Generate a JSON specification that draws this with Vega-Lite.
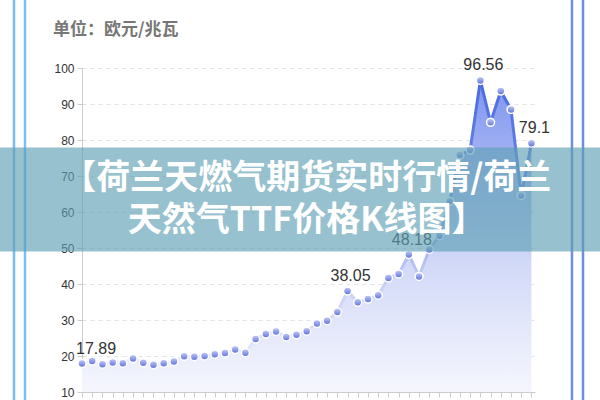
{
  "$schema": "https://vega.github.io/schema/vega-lite/v6.json",
  "width": 453,
  "height": 324,
  "autosize": {"type": "none"},
  "padding": {"left": 82, "top": 68, "right": 65, "bottom": 8},
  "background": "white",
  "config": {"view": {"stroke": null}},
  "datasets": {
    "prices": [
      {"i": 1, "v": 17.89, "lab": "17.89"},
      {"i": 2, "v": 18.6},
      {"i": 3, "v": 17.7},
      {"i": 4, "v": 18.2},
      {"i": 5, "v": 18.0},
      {"i": 6, "v": 19.3},
      {"i": 7, "v": 18.1},
      {"i": 8, "v": 17.6},
      {"i": 9, "v": 18.0},
      {"i": 10, "v": 18.5},
      {"i": 11, "v": 19.9},
      {"i": 12, "v": 19.8},
      {"i": 13, "v": 20.0},
      {"i": 14, "v": 20.5},
      {"i": 15, "v": 20.8},
      {"i": 16, "v": 21.8},
      {"i": 17, "v": 20.9},
      {"i": 18, "v": 24.7},
      {"i": 19, "v": 26.1},
      {"i": 20, "v": 26.8},
      {"i": 21, "v": 25.3},
      {"i": 22, "v": 25.9},
      {"i": 23, "v": 26.9},
      {"i": 24, "v": 29.0},
      {"i": 25, "v": 29.8},
      {"i": 26, "v": 32.2},
      {"i": 27, "v": 38.05, "lab": "38.05"},
      {"i": 28, "v": 34.9},
      {"i": 29, "v": 35.8},
      {"i": 30, "v": 36.9},
      {"i": 31, "v": 41.7},
      {"i": 32, "v": 42.8},
      {"i": 33, "v": 48.18, "lab": "48.18"},
      {"i": 34, "v": 42.1},
      {"i": 35, "v": 49.6},
      {"i": 36, "v": 53.4},
      {"i": 37, "v": 63.0},
      {"i": 38, "v": 75.8},
      {"i": 39, "v": 77.2},
      {"i": 40, "v": 96.56, "lab": "96.56"},
      {"i": 41, "v": 84.9},
      {"i": 42, "v": 93.6},
      {"i": 43, "v": 88.5},
      {"i": 44, "v": 64.6},
      {"i": 45, "v": 79.1, "lab": "79.1"}
    ],
    "frames": [
      {"i": -5.658, "v": 118.9, "v2": 7.8, "side": "left"},
      {"i": -4.58, "v": 118.9, "v2": 7.8, "side": "left"},
      {"i": 48.97, "v": 118.9, "v2": 7.8, "side": "right"},
      {"i": 50.05, "v": 118.9, "v2": 7.8, "side": "right"}
    ],
    "unit": [
      {"i": -1.84, "v": 110.56, "t": "单位：欧元/兆瓦"}
    ],
    "banner": [
      {"i": -7.03, "i2": 51.73, "v": 77.92, "v2": 49.03}
    ],
    "bannerText": [
      {"i": 23.0, "v": 69.2, "t": "【荷兰天燃气期货实时行情/荷兰"},
      {"i": 23.0, "v": 57.5, "t": "天然气TTF价格K线图】"}
    ]
  },
  "encoding": {
    "x": {
      "field": "i",
      "type": "quantitative",
      "scale": {"domain": [1, 45.35], "nice": false, "zero": false},
      "axis": {
        "title": null,
        "labels": false,
        "grid": false,
        "values": [1,2,3,4,5,6,7,8,9,10,11,12,13,14,15,16,17,18,19,20,21,22,23,24,25,26,27,28,29,30,31,32,33,34,35,36,37,38,39,40,41,42,43,44,45],
        "tickSize": 5,
        "tickColor": "#cccccc",
        "domainColor": "#cccccc"
      }
    },
    "y": {
      "field": "v",
      "type": "quantitative",
      "scale": {"domain": [10, 100], "nice": false, "zero": false},
      "axis": {
        "title": null,
        "values": [10, 20, 30, 40, 50, 60, 70, 80, 90, 100],
        "labelFont": "Liberation Sans",
        "labelFontSize": 12,
        "labelColor": "#333333",
        "labelPadding": 3,
        "tickSize": 5,
        "tickColor": "#cccccc",
        "domainColor": "#cccccc",
        "gridColor": "#e3e3e3",
        "gridDash": [4, 4]
      }
    }
  },
  "layer": [
    {
      "data": {"name": "prices"},
      "mark": {
        "type": "area",
        "fill": {
          "gradient": "linear", "x1": 0, "y1": 0, "x2": 0, "y2": 1,
          "stops": [
            {"offset": 0, "color": "#7f95ee"},
            {"offset": 0.3, "color": "#aab8f4"},
            {"offset": 0.6, "color": "#d3daf8"},
            {"offset": 1, "color": "#f5f6fd"}
          ]
        }
      },
      "encoding": {"y2": {"datum": 10}}
    },
    {
      "data": {"name": "prices"},
      "mark": {
        "type": "line",
        "strokeWidth": 3,
        "stroke": {
          "gradient": "linear", "x1": 0, "y1": 0, "x2": 0, "y2": 1,
          "stops": [
            {"offset": 0, "color": "#4a6ae0"},
            {"offset": 0.35, "color": "#6d86e6"},
            {"offset": 0.7, "color": "#c5cdf4"},
            {"offset": 1, "color": "#e8ebfa"}
          ]
        }
      },
      "encoding": {}
    },
    {
      "data": {"name": "prices"},
      "mark": {
        "type": "point",
        "shape": "circle",
        "filled": true,
        "size": 64,
        "opacity": 1,
        "stroke": "white",
        "strokeWidth": 1.5,
        "fill": {
          "gradient": "linear", "x1": 0, "y1": 0, "x2": 0, "y2": 1,
          "stops": [
            {"offset": 0, "color": "#c6cdf7"},
            {"offset": 1, "color": "#5b70dd"}
          ]
        }
      }
    },
    {
      "data": {"name": "prices"},
      "transform": [{"filter": "datum.i == 1"}],
      "mark": {"type": "text", "align": "left", "baseline": "middle", "dx": -6, "dy": -15, "font": "Liberation Sans", "fontSize": 16, "color": "#333333"},
      "encoding": {"text": {"field": "lab"}}
    },
    {
      "data": {"name": "prices"},
      "transform": [{"filter": "isValid(datum.lab) && datum.i > 1"}],
      "mark": {"type": "text", "align": "center", "baseline": "middle", "dx": 3, "dy": -15, "font": "Liberation Sans", "fontSize": 16, "color": "#333333"},
      "encoding": {"text": {"field": "lab"}}
    },
    {
      "data": {"name": "unit"},
      "mark": {"type": "text", "align": "left", "baseline": "middle", "font": "Noto Sans CJK SC", "fontSize": 17, "fontWeight": "bold", "color": "#777777"},
      "encoding": {"text": {"field": "t"}}
    },
    {
      "data": {"name": "frames"},
      "transform": [{"filter": "datum.side == 'left'"}],
      "mark": {"type": "rule", "strokeWidth": 2.5, "color": "#79bdf5"},
      "encoding": {"y2": {"field": "v2"}}
    },
    {
      "data": {"name": "frames"},
      "transform": [{"filter": "datum.side == 'right'"}],
      "mark": {"type": "rule", "strokeWidth": 2.5, "color": "#6f8ee0"},
      "encoding": {"y2": {"field": "v2"}}
    },
    {
      "data": {"name": "banner"},
      "mark": {"type": "rect", "fill": "#5f9fb3", "opacity": 0.65},
      "encoding": {"x2": {"field": "i2"}, "y2": {"field": "v2"}}
    },
    {
      "data": {"name": "bannerText"},
      "mark": {"type": "text", "align": "center", "baseline": "middle", "font": "Noto Sans CJK SC", "fontSize": 34, "fontWeight": "bold", "color": "white"},
      "encoding": {"text": {"field": "t"}}
    }
  ]
}
